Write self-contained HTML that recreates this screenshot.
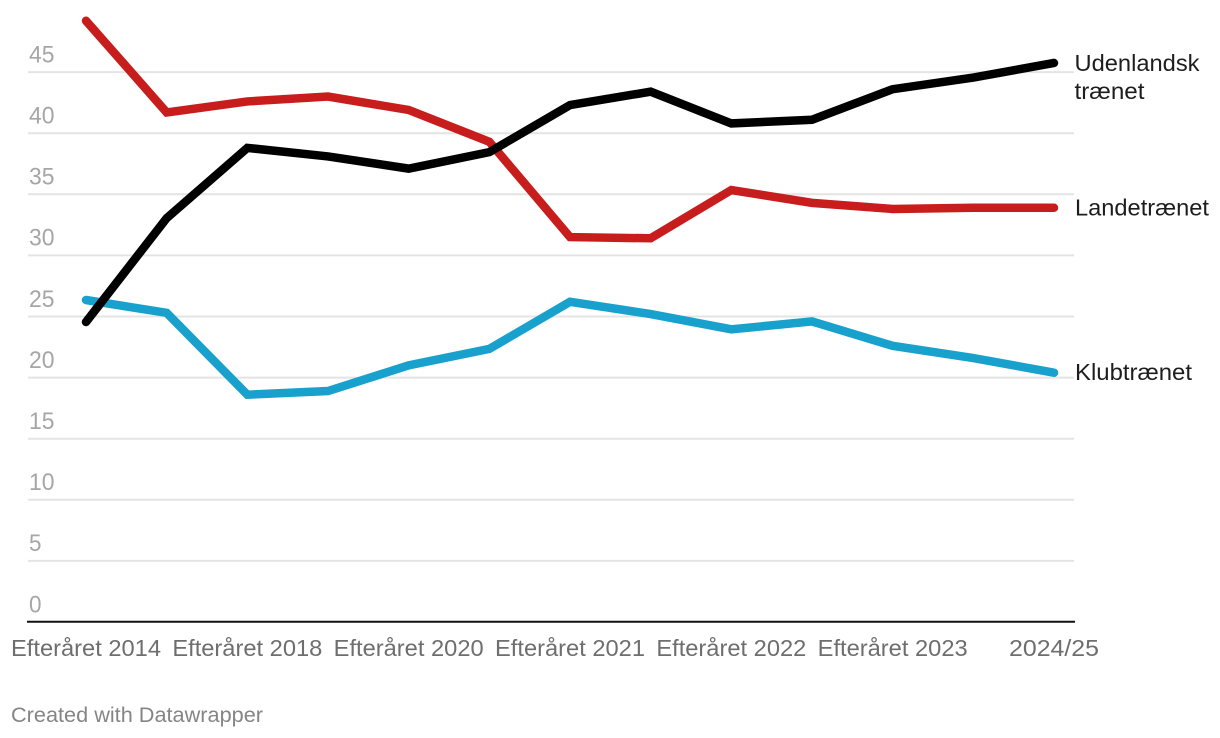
<!DOCTYPE html>
<html lang="da">
<head>
<meta charset="utf-8">
<title>Chart</title>
<style>
html,body{margin:0;padding:0;background:#fff;}
body{width:1220px;height:738px;overflow:hidden;}
svg{display:block;}
text{font-family:"Liberation Sans",sans-serif;}
</style>
</head>
<body>
<svg id="chart" width="1220" height="738" viewBox="0 0 1220 738" xmlns="http://www.w3.org/2000/svg">
  <g id="grid"></g>
  <g id="yticks"></g>
  <line x1="27" x2="1075" y1="621.7" y2="621.7" stroke="#111111" stroke-width="2"></line>
  <g id="xticks"></g>
  <g id="lines"></g>
  <g id="labels"></g>
  <text x="11" y="722" font-size="21.5" fill="#858585" textLength="252" lengthAdjust="spacingAndGlyphs">Created with Datawrapper</text>
</svg>
<script>
const xLabels = ["Efteråret 2014","","Efteråret 2018","","Efteråret 2020","","Efteråret 2021","","Efteråret 2022","","Efteråret 2023","","2024/25"];
const yTicks = [0,5,10,15,20,25,30,35,40,45];
const klubtraenet = [26.35,25.3,18.6,18.9,21.0,22.35,26.2,25.2,23.95,24.6,22.6,21.6,20.4];
const landetraenet = [49.2,41.7,42.6,43.0,41.9,39.3,31.5,31.4,35.35,34.3,33.8,33.9,33.9];
const udenlandsk = [24.55,33.05,38.8,38.1,37.1,38.45,42.3,43.4,40.8,41.1,43.6,44.55,45.75];

const NS = "http://www.w3.org/2000/svg";
const xAt = i => 86 + i * (1054 - 86) / (xLabels.length - 1);
const yAt = v => 622 - v * 12.22;

const grid = document.getElementById("grid");
const yticks = document.getElementById("yticks");
yTicks.forEach(v => {
  if (v > 0) {
    const l = document.createElementNS(NS, "line");
    
    
    l.setAttribute("x1", 28);
    l.setAttribute("x2", 1074);
    l.setAttribute("y1", yAt(v));
    l.setAttribute("y2", yAt(v));
    l.setAttribute("stroke", "#e4e4e4");
    l.setAttribute("stroke-width", 2);
    grid.appendChild(l);
  }
  const t = document.createElementNS(NS, "text");
  
  
  t.setAttribute("x", 29);
  t.setAttribute("y", yAt(v) - 9.7);
  t.setAttribute("font-size", 24);
  t.setAttribute("fill", "#a6a6a6");
  t.setAttribute("textLength", String(v).length === 2 ? 25.5 : 12.5);
  t.setAttribute("lengthAdjust", "spacingAndGlyphs");
  t.textContent = v;
  yticks.appendChild(t);
});

const xticks = document.getElementById("xticks");
xLabels.forEach((s, i) => {
  if (!s) return;
  const t = document.createElementNS(NS, "text");
  
  
  t.setAttribute("x", xAt(i));
  t.setAttribute("y", 656);
  t.setAttribute("font-size", 23);
  t.setAttribute("fill", "#6e6e6e");
  t.setAttribute("text-anchor", "middle");
  t.setAttribute("textLength", s.length > 8 ? 150 : 90);
  t.setAttribute("lengthAdjust", "spacingAndGlyphs");
  t.textContent = s;
  xticks.appendChild(t);
});

const linesG = document.getElementById("lines");
function drawLine(values, color, name) {
  const p = document.createElementNS(NS, "polyline");
  
  
  p.setAttribute("points", values.map((v, i) => xAt(i) + "," + yAt(v)).join(" "));
  p.setAttribute("fill", "none");
  p.setAttribute("stroke", color);
  p.setAttribute("stroke-width", 8.5);
  p.setAttribute("stroke-linecap", "round");
  p.setAttribute("stroke-linejoin", "miter");
  linesG.appendChild(p);
}
drawLine(klubtraenet, "#18a1cd", "line-klubtraenet");
drawLine(landetraenet, "#c71e1d", "line-landetraenet");
drawLine(udenlandsk, "#000000", "line-udenlandsk-traenet");

const labelsG = document.getElementById("labels");
function drawLabel(str, x, y, w, name) {
  const t = document.createElementNS(NS, "text");
  
  
  t.setAttribute("x", x);
  t.setAttribute("y", y);
  t.setAttribute("font-size", 23.5);
  t.setAttribute("fill", "#1d1d1d");
  t.setAttribute("textLength", w);
  t.setAttribute("lengthAdjust", "spacingAndGlyphs");
  t.textContent = str;
  labelsG.appendChild(t);
}
const last = a => a[a.length - 1];
drawLabel("Udenlandsk", 1074.5, yAt(last(udenlandsk)) + 8, 125, "label-udenlandsk");
drawLabel("trænet", 1074.5, yAt(last(udenlandsk)) + 36, 70, "label-traenet");
drawLabel("Landetrænet", 1075, yAt(last(landetraenet)) + 8, 134, "label-landetraenet");
drawLabel("Klubtrænet", 1075, yAt(last(klubtraenet)) + 7.5, 117, "label-klubtraenet");
</script>
</body>
</html>
